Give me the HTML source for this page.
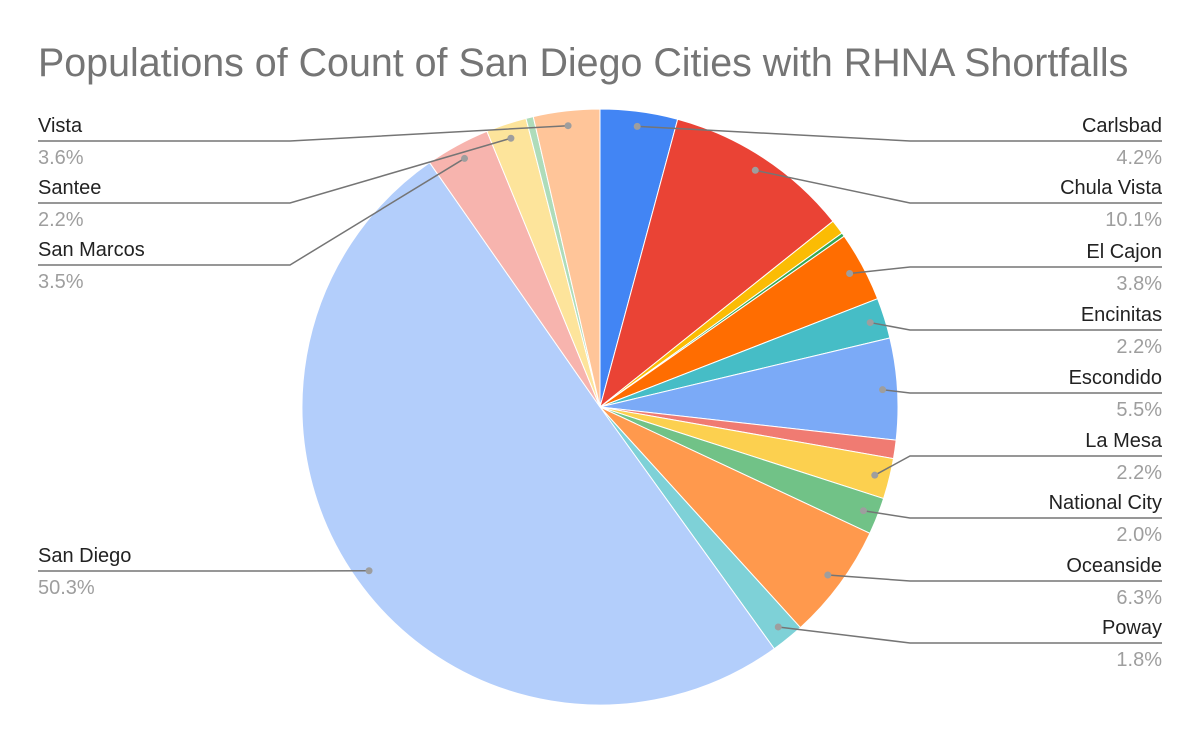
<!DOCTYPE html>
<html><head><meta charset="utf-8"><style>
body{margin:0;background:#fff;}
svg{display:block;font-family:"Liberation Sans",Arial,sans-serif;}
</style></head><body>
<svg id="chart" width="1200" height="742">
<rect width="1200" height="742" fill="#fff"/>
<text x="38" y="76" font-size="39.4" fill="#757575">Populations of Count of San Diego Cities with RHNA Shortfalls</text>
<g id="slices"></g><g id="labels"></g>
</svg>
<script>
const cities=["Carlsbad","Chula Vista","","","El Cajon","Encinitas","Escondido","","La Mesa","National City","Oceanside","Poway","San Diego","San Marcos","Santee","","Vista"];
const shares=[4.2,10.1,0.8,0.2,3.8,2.2,5.5,1.0,2.2,2.0,6.3,1.8,50.3,3.5,2.2,0.4,3.6];
const pctLabels=["4.2%","10.1%","","","3.8%","2.2%","5.5%","","2.2%","2.0%","6.3%","1.8%","50.3%","3.5%","2.2%","","3.6%"];
const colors=["#4285f4","#ea4335","#fbbc04","#34a853","#ff6d01","#46bdc6","#7baaf7","#f07b72","#fcd04f","#71c287","#ff994d","#7ed1d7","#b3cefb","#f7b4ae","#fde49b","#aedcba","#ffc599"];
const labelLineY={"Carlsbad":141,"Chula Vista":203,"El Cajon":267,"Encinitas":330,"Escondido":393,"La Mesa":456,"National City":518,"Oceanside":581,"Poway":643,"Vista":141,"Santee":203,"San Marcos":265,"San Diego":571};
const NS="http://www.w3.org/2000/svg";
const cx=600,cy=407,R=298;
const total=shares.reduce((a,b)=>a+b,0);
function pt(a,r){return [cx+r*Math.sin(a),cy-r*Math.cos(a)];}
const sg=document.getElementById('slices'),lg=document.getElementById('labels');
let acc=0;
shares.forEach((v,i)=>{
  const a0=acc/total*2*Math.PI;acc+=v;const a1=acc/total*2*Math.PI;
  const p0=pt(a0,R),p1=pt(a1,R);const large=(a1-a0)>Math.PI?1:0;
  const p=document.createElementNS(NS,'path');
  p.setAttribute('d',`M${cx},${cy}L${p0[0]},${p0[1]}A${R},${R} 0 ${large} 1 ${p1[0]},${p1[1]}Z`);
  p.setAttribute('fill',colors[i]);p.setAttribute('stroke','#fff');p.setAttribute('stroke-width','1');
  
  
  sg.appendChild(p);
  if(!cities[i])return;
  const am=(a0+a1)/2;const d=pt(am,R*0.95);
  const ly=labelLineY[cities[i]];const right=Math.sin(am)>=0;
  const line=document.createElementNS(NS,'polyline');
  const pts=right?`${d[0]},${d[1]} 910,${ly} 1162,${ly}`:`${d[0]},${d[1]} 290,${ly} 38,${ly}`;
  line.setAttribute('points',pts);line.setAttribute('fill','none');line.setAttribute('stroke','#757575');line.setAttribute('stroke-width','1.5');
  
  
  lg.appendChild(line);
  const dot=document.createElementNS(NS,'circle');
  dot.setAttribute('cx',d[0]);dot.setAttribute('cy',d[1]);dot.setAttribute('r','3.5');dot.setAttribute('fill','#9e9e9e');
  
  
  lg.appendChild(dot);
  const x=right?1162:38,anchor=right?'end':'start';
  const t1=document.createElementNS(NS,'text');
  t1.setAttribute('x',x);t1.setAttribute('y',ly-9);t1.setAttribute('text-anchor',anchor);t1.setAttribute('font-size','20');t1.setAttribute('fill','#222');
  t1.textContent=cities[i];
  
  
  lg.appendChild(t1);
  const t2=document.createElementNS(NS,'text');
  t2.setAttribute('x',x);t2.setAttribute('y',ly+23);t2.setAttribute('text-anchor',anchor);t2.setAttribute('font-size','20');t2.setAttribute('fill','#9e9e9e');
  t2.textContent=pctLabels[i];
  
  
  lg.appendChild(t2);
});
</script>
</body></html>
